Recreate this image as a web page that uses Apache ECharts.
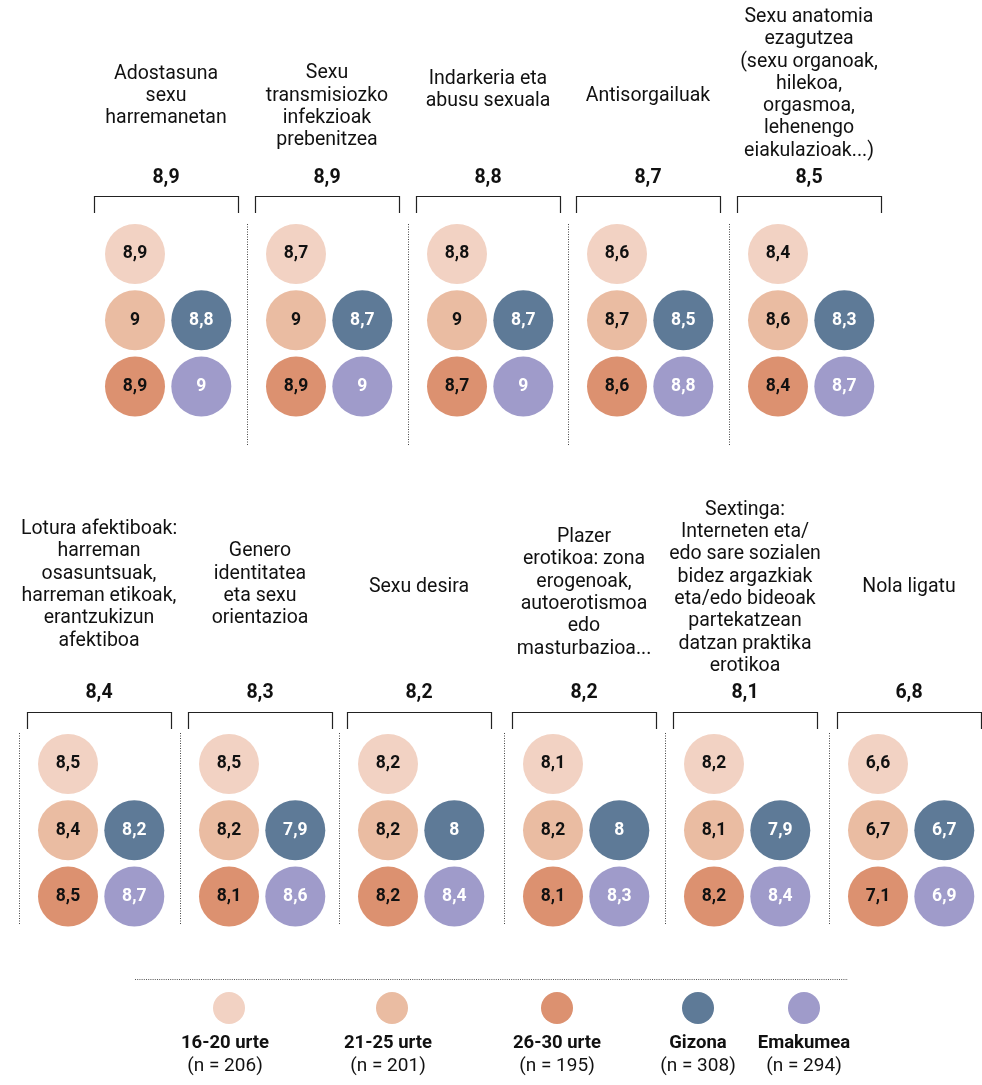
<!DOCTYPE html>
<html lang="eu">
<head>
    <meta charset="UTF-8">
    <title>Sexu hezkuntza gaiak</title>
    <script src="https://cdn.jsdelivr.net/npm/echarts@6/dist/echarts.min.js"></script>
    <style>
        html, body { margin: 0; padding: 0; background: #fff; }
        #myCharts { width: 982px; height: 1085px; }
    </style>
</head>
<body>
<div id="myCharts"></div>

<script>
    // gaiak (panel titles) and the overall score
    const topics = [
        'Adostasuna\nsexu\nharremanetan',
        'Sexu\ntransmisiozko\ninfekzioak\nprebenitzea',
        'Indarkeria eta\nabusu sexuala',
        'Antisorgailuak',
        'Sexu anatomia\nezagutzea\n(sexu organoak,\nhilekoa,\norgasmoa,\nlehenengo\neiakulazioak...)',
        'Lotura afektiboak:\nharreman\nosasuntsuak,\nharreman etikoak,\nerantzukizun\nafektiboa',
        'Genero\nidentitatea\neta sexu\norientazioa',
        'Sexu desira',
        'Plazer\nerotikoa: zona\nerogenoak,\nautoerotismoa\nedo\nmasturbazioa...',
        'Sextinga:\nInterneten eta/\nedo sare sozialen\nbidez argazkiak\neta/edo bideoak\npartekatzean\ndatzan praktika\nerotikoa',
        'Nola ligatu'
    ];
    const overall  = [8.9, 8.9, 8.8, 8.7, 8.5, 8.4, 8.3, 8.2, 8.2, 8.1, 6.8];
    const age1620  = [8.9, 8.7, 8.8, 8.6, 8.4, 8.5, 8.5, 8.2, 8.1, 8.2, 6.6];
    const age2125  = [9, 9, 9, 8.7, 8.6, 8.4, 8.2, 8.2, 8.2, 8.1, 6.7];
    const age2630  = [8.9, 8.9, 8.7, 8.6, 8.4, 8.5, 8.1, 8.2, 8.1, 8.2, 7.1];
    const gizona   = [8.8, 8.7, 8.7, 8.5, 8.3, 8.2, 7.9, 8, 8, 7.9, 6.7];
    const emakumea = [9, 9, 9, 8.8, 8.7, 8.7, 8.6, 8.4, 8.3, 8.4, 6.9];

    const groupNames = ['16-20 urte', '21-25 urte', '26-30 urte', 'Gizona', 'Emakumea'];
    const groupN     = [206, 201, 195, 308, 294];
    const groupColors = ['#f2d2c3', '#eabca2', '#dc9170', '#5e7a97', '#9f9bca'];
    const groupText   = ['#111', '#111', '#111', '#fff', '#fff'];
    // where each group sits in the little 2x3 block: [column, row]
    const groupCell = [[0, 0], [0, 1], [0, 2], [1, 1], [1, 2]];
    const groupValues = [age1620, age2125, age2630, gizona, emakumea];

    // layout (pixels)
    const colX   = [135, 296, 457, 617, 778, 68, 229, 388, 553, 714, 878]; // first circle column centre
    const rowTop = [254, 254, 254, 254, 254, 764, 764, 764, 764, 764, 764]; // first circle row centre
    const titleY = [96, 107, 90, 96, 84, 585, 585, 587, 593, 588, 587];
    const step = 66.3;
    const legendX = [229, 392, 557, 698, 804];

    const FONT = 'Roboto, "DejaVu Sans", sans-serif';
    const fmt = v => String(v).replace('.', ',');

    let myChart = echarts.init(document.getElementById('myCharts'), null, {renderer: 'canvas'});

    let grids = [], xAxes = [], yAxes = [], series = [], elements = [];

    topics.forEach((t, i) => {
        grids.push({
            left: colX[i] - step / 2,
            top: rowTop[i] - step / 2,
            width: step * 2,
            height: step * 3,
            containLabel: false
        });
        xAxes.push({type: 'category', gridIndex: i, data: ['a', 'b'], show: false});
        yAxes.push({type: 'category', gridIndex: i, data: ['1', '2', '3'], inverse: true, show: false});
        series.push({
            type: 'scatter',
            xAxisIndex: i,
            yAxisIndex: i,
            symbolSize: 60,
            silent: true,
            data: groupValues.map((vals, g) => ({
                value: [groupCell[g][0], groupCell[g][1], vals[i]],
                itemStyle: {color: groupColors[g], opacity: 1},
                label: {color: groupText[g]}
            })),
            label: {
                show: true,
                position: 'inside',
                fontFamily: FONT,
                fontSize: 17.5,
                fontWeight: 'bold',
                formatter: p => fmt(p.value[2])
            }
        });

        const firstRow = i < 5;
        const bl = colX[i] - 41, br = colX[i] + 103;
        const bTop = firstRow ? 196 : 712;
        const cx = (bl + br) / 2;

        elements.push({
            type: 'text',
            style: {
                text: t, x: cx, y: titleY[i],
                fill: '#111', fontFamily: FONT, fontSize: 19.5, lineHeight: 22.3,
                align: 'center', verticalAlign: 'middle'
            }
        });
        elements.push({
            type: 'text',
            style: {
                text: fmt(overall[i]), x: cx, y: firstRow ? 178 : 693,
                fill: '#111', fontFamily: FONT, fontSize: 19.5, fontWeight: 'bold',
                align: 'center', verticalAlign: 'middle'
            }
        });
        elements.push({
            type: 'polyline',
            shape: {points: [[bl + 0.5, bTop + 17], [bl + 0.5, bTop + 0.5], [br + 0.5, bTop + 0.5], [br + 0.5, bTop + 17]]},
            style: {stroke: '#222', lineWidth: 1.2, fill: null}
        });
        // dotted separator on the left of each panel (not the first one of the top row)
        if (i !== 0) {
            const sx = Math.round(colX[i] - 49) + 0.5;
            elements.push({
                type: 'line',
                shape: {x1: sx, y1: firstRow ? 224 : 733, x2: sx, y2: firstRow ? 445 : 925},
                style: {stroke: '#444', lineWidth: 1, lineDash: [1, 1.5]}
            });
        }
    });

    // legend
    elements.push({
        type: 'line',
        shape: {x1: 135, y1: 979.5, x2: 848, y2: 979.5},
        style: {stroke: '#555', lineWidth: 1, lineDash: [1, 1.2]}
    });
    groupNames.forEach((name, g) => {
        elements.push({
            type: 'circle',
            shape: {cx: legendX[g], cy: 1008, r: 16},
            style: {fill: groupColors[g]}
        });
        elements.push({
            type: 'text',
            style: {
                text: '{b|' + name + '}\n{n|(n = ' + groupN[g] + ')}',
                x: legendX[g] - (g < 2 ? 4 : 0), y: 1055,
                align: 'center', verticalAlign: 'middle',
                fill: '#111', fontFamily: FONT,
                rich: {
                    b: {fontFamily: FONT, fontSize: 18.5, fontWeight: 'bold', lineHeight: 23, fill: '#111'},
                    n: {fontFamily: FONT, fontSize: 19, lineHeight: 23, fill: '#111'}
                }
            }
        });
    });

    myChart.setOption({
        backgroundColor: '#fff',
        animation: false,
        grid: grids,
        xAxis: xAxes,
        yAxis: yAxes,
        series: series,
        graphic: {elements: elements}
    });
</script>

</body>
</html>
